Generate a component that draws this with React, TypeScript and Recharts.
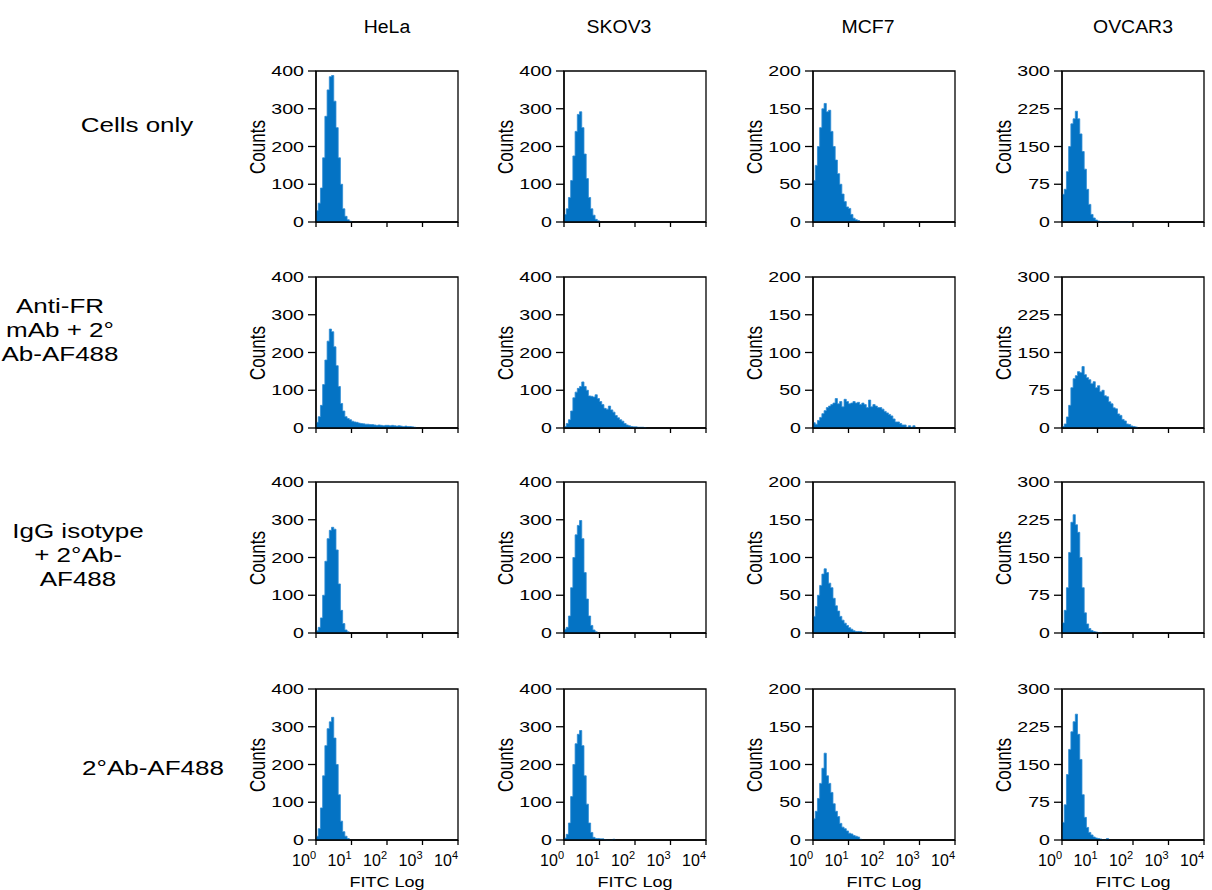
import React from "react";
import { AreaChart, Area, XAxis, YAxis, ReferenceArea } from "recharts";

// histogram bin width, in decades of FITC fluorescence (log10 scale 0..4)
const BIN = 0.0625;

const cellLines = ["HeLa", "SKOV3", "MCF7", "OVCAR3"];
const yMaxByCell = [400, 400, 200, 300];
const yTicksByCell = [
  [0, 100, 200, 300, 400],
  [0, 100, 200, 300, 400],
  [0, 50, 100, 150, 200],
  [0, 75, 150, 225, 300],
];
const decadeTicks = [0, 1, 2, 3, 4];

// counts per bin, starting at 10^0
const helaCellsOnly = [30, 50, 90, 170, 280, 350, 385, 388, 320, 250, 170, 100, 35, 15, 6, 2];
const skov3CellsOnly = [20, 35, 65, 110, 175, 240, 285, 292, 250, 180, 115, 65, 35, 18, 7, 3];
const mcf7CellsOnly = [55, 75, 100, 125, 150, 157, 146, 148, 120, 100, 82, 64, 50, 37, 27, 20, 18, 10, 5, 3, 2];
const ovcar3CellsOnly = [55, 65, 100, 150, 195, 205, 220, 205, 175, 140, 105, 65, 35, 15, 8, 4, 2, 0, 1, 1, 1, 0, 0, 0, 0, 0, 0, 0, 0, 0, 1];

const helaAntiFR = [15, 30, 60, 115, 180, 230, 262, 255, 215, 165, 110, 65, 45, 30, 25, 22, 18, 16, 15, 13, 12, 11, 10, 10, 9, 9, 8, 7, 8, 7, 6, 7, 7, 6, 7, 6, 5, 6, 5, 4, 5, 4, 4, 3, 2];
const skov3AntiFR = [4, 12, 22, 45, 80, 95, 105, 110, 122, 110, 100, 85, 84, 82, 88, 78, 70, 62, 52, 50, 58, 48, 42, 33, 27, 22, 18, 12, 8, 6, 4, 3, 3, 2, 2, 2, 1];
const mcf7AntiFR = [7, 5, 10, 14, 19, 23, 27, 29, 31, 33, 39, 32, 35, 28, 38, 35, 32, 33, 35, 33, 34, 31, 33, 31, 27, 37, 28, 31, 29, 27, 27, 25, 22, 20, 18, 16, 12, 8, 8, 6, 4, 4, 1, 3, 1, 3];
const ovcar3AntiFR = [3, 8, 22, 45, 80, 98, 104, 112, 110, 122, 106, 100, 96, 88, 92, 80, 84, 72, 75, 64, 62, 52, 48, 40, 38, 28, 25, 17, 14, 8, 7, 4, 3, 2];

const helaIgG = [6, 15, 40, 100, 190, 250, 272, 280, 275, 220, 130, 60, 25, 8, 3];
const skov3IgG = [10, 15, 45, 120, 200, 260, 285, 298, 250, 160, 90, 45, 20, 8, 3];
const mcf7IgG = [22, 35, 50, 63, 78, 85, 80, 66, 60, 46, 36, 29, 22, 17, 13, 10, 7, 5, 3, 2, 2, 2, 1, 1];
const ovcar3IgG = [20, 45, 90, 160, 220, 235, 215, 200, 150, 90, 40, 18, 9, 5, 3, 2, 1, 1];

const hela2nd = [10, 30, 85, 170, 250, 295, 313, 325, 270, 200, 120, 50, 22, 10, 4];
const skov32nd = [5, 15, 45, 115, 200, 255, 280, 290, 250, 170, 95, 45, 20, 7, 4, 4, 3, 3, 1, 0, 0, 0, 2];
const mcf72nd = [28, 38, 55, 75, 95, 115, 85, 75, 63, 48, 38, 31, 22, 17, 15, 12, 9, 8, 6, 5, 4, 1];
const ovcar32nd = [35, 70, 130, 180, 215, 235, 250, 210, 160, 90, 45, 25, 15, 10, 6, 4, 3, 2, 0, 0, 3];

const rows = [
  { label: ["Cells only"], counts: [helaCellsOnly, skov3CellsOnly, mcf7CellsOnly, ovcar3CellsOnly] },
  { label: ["Anti-FR", "mAb + 2°", "Ab-AF488"], counts: [helaAntiFR, skov3AntiFR, mcf7AntiFR, ovcar3AntiFR] },
  { label: ["IgG isotype", "+ 2°Ab-", "AF488"], counts: [helaIgG, skov3IgG, mcf7IgG, ovcar3IgG] },
  { label: ["2°Ab-AF488"], counts: [hela2nd, skov32nd, mcf72nd, ovcar32nd] },
];

// layout
const PLOT_LEFT = [316, 564, 813, 1062];
const PLOT_TOP = [71, 277, 482, 689];
const PLOT_W = 142;
const PLOT_H = 151;
const PAD_L = 70;
const PAD_T = 8;
const PAD_R = 8;
const PAD_B = 40;
const TITLE_X = [387, 619, 868, 1133];
const ROW_LABEL_X = [137, 60, 78, 153];
const ROW_LABEL_Y = [125, 330, 555, 768];

const FONT = "Arial, 'Liberation Sans', sans-serif";
const BLUE = "#0473c4";
const axisStyle = { stroke: "#000", strokeWidth: 1.3 };

function toSeries(counts: number[]) {
  const pts = counts.map((c, i) => ({ x: i * BIN, y: c }));
  pts.push({ x: counts.length * BIN, y: 0 });
  return pts;
}

// the figure's text is drawn wide, so stretch it sideways
const CountTick = (props: any) => {
  const { x, y, payload } = props;
  return (
    <text
      transform={`translate(${x},${y}) scale(1.4,1)`}
      dy="0.36em"
      textAnchor="end"
      fill="#000"
      fontSize={14}
      fontFamily={FONT}
    >
      {payload.value}
    </text>
  );
};

const DecadeTick = (props: any) => {
  const { x, y, payload } = props;
  return (
    <text x={x} y={y + 19} textAnchor="end" fill="#000" fontSize={16} fontFamily={FONT}>
      10
      <tspan dy={-7} fontSize={11}>
        {payload.value}
      </tspan>
    </text>
  );
};

const BlankTick = () => <g />;

function Panel({ counts, col, row }: { counts: number[]; col: number; row: number }) {
  const data = toSeries(counts);
  const last = row === rows.length - 1;
  return (
    <div style={{ position: "absolute", left: PLOT_LEFT[col] - PAD_L, top: PLOT_TOP[row] - PAD_T }}>
      <AreaChart
        width={PAD_L + PLOT_W + PAD_R}
        height={PAD_T + PLOT_H + PAD_B}
        data={data}
        margin={{ top: PAD_T, right: PAD_R, left: 0, bottom: 0 }}
      >
        <XAxis
          dataKey="x"
          type="number"
          domain={[0, 4]}
          ticks={decadeTicks}
          interval={0}
          height={PAD_B}
          tickSize={5}
          axisLine={axisStyle}
          tickLine={axisStyle}
          tick={last ? (p: any) => <DecadeTick {...p} /> : () => <BlankTick />}
        />
        <YAxis
          type="number"
          domain={[0, yMaxByCell[col]]}
          ticks={yTicksByCell[col]}
          interval={0}
          width={PAD_L}
          tickSize={8}
          tickMargin={4}
          axisLine={axisStyle}
          tickLine={axisStyle}
          tick={(p: any) => <CountTick {...p} />}
        />
        <ReferenceArea x1={0} x2={4} y1={0} y2={yMaxByCell[col]} fill="none" stroke="#000" strokeWidth={1.3} />
        <Area
          type="stepAfter"
          dataKey="y"
          fill={BLUE}
          fillOpacity={1}
          stroke="#2d8bd4"
          strokeWidth={0.8}
          isAnimationActive={false}
          dot={false}
          activeDot={false}
        />
      </AreaChart>
    </div>
  );
}

export default function App() {
  return (
    <div
      style={{
        position: "absolute",
        left: 0,
        top: 0,
        width: 1212,
        height: 890,
        background: "#fff",
        fontFamily: FONT,
        color: "#000",
        overflow: "hidden",
      }}
    >
      {cellLines.map((name, c) => (
        <div
          key={name}
          style={{
            position: "absolute",
            left: TITLE_X[c],
            top: 27,
            transform: "translate(-50%, -50%) scaleX(1.08)",
            fontSize: 18,
          }}
        >
          {name}
        </div>
      ))}
      {rows.map((r, ri) => (
        <div
          key={ri}
          style={{
            position: "absolute",
            left: ROW_LABEL_X[ri],
            top: ROW_LABEL_Y[ri],
            transform: "translate(-50%, -50%) scaleX(1.3)",
            fontSize: 20,
            lineHeight: "24px",
            textAlign: "center",
            whiteSpace: "nowrap",
          }}
        >
          {r.label.map((l) => (
            <div key={l}>{l}</div>
          ))}
        </div>
      ))}
      {rows.map((r, ri) =>
        r.counts.map((counts, ci) => (
          <React.Fragment key={ri + "-" + ci}>
            <Panel counts={counts} col={ci} row={ri} />
            <div
              style={{
                position: "absolute",
                left: PLOT_LEFT[ci] - 58,
                top: PLOT_TOP[ri] + PLOT_H / 2,
                transform: "translate(-50%, -50%) rotate(-90deg) scaleY(1.3)",
                fontSize: 17,
              }}
            >
              Counts
            </div>
          </React.Fragment>
        ))
      )}
      {cellLines.map((name, c) => (
        <div
          key={"fitc" + name}
          style={{
            position: "absolute",
            left: PLOT_LEFT[c] + PLOT_W / 2,
            top: 881,
            transform: "translate(-50%, -50%) scaleX(1.2)",
            fontSize: 15,
          }}
        >
          FITC Log
        </div>
      ))}
    </div>
  );
}
